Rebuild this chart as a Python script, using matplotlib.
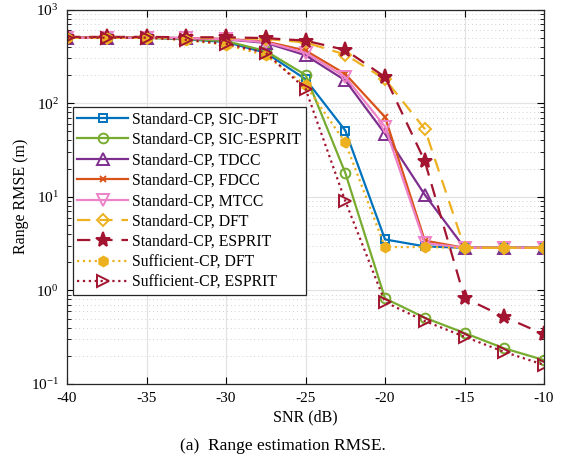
import matplotlib
matplotlib.use("Agg")
import matplotlib.pyplot as plt
from matplotlib.ticker import LogLocator, NullFormatter

snr = [-40, -37.5, -35, -32.5, -30, -27.5, -25, -22.5, -20, -17.5, -15, -12.5, -10]

sic_dft = [500, 500, 500, 480, 450, 345, 180, 51, 3.5, 2.95, 2.85, 2.85, 2.85]
sic_esprit = [500, 500, 500, 485, 460, 360, 200, 18, 0.82, 0.51, 0.35, 0.24, 0.18]
tdcc = [500, 500, 500, 495, 480, 440, 325, 175, 47, 10.5, 2.85, 2.85, 2.85]
fdcc = [500, 500, 500, 495, 485, 455, 365, 205, 71, 3.4, 2.85, 2.85, 2.85]
mtcc = [500, 500, 500, 495, 482, 448, 345, 190, 56, 3.2, 2.85, 2.85, 2.85]
std_dft = [500, 500, 500, 500, 495, 485, 445, 330, 180, 53, 2.85, 2.85, 2.85]
std_esprit = [510, 510, 510, 505, 505, 495, 465, 370, 190, 24, 0.83, 0.52, 0.34]
suf_dft = [500, 500, 500, 470, 420, 325, 155, 38, 2.9, 2.9, 2.85, 2.85, 2.85]
suf_esprit = [500, 500, 500, 475, 430, 345, 142, 9, 0.75, 0.47, 0.32, 0.22, 0.16]

labels = [
    "Standard-CP, SIC-DFT",
    "Standard-CP, SIC-ESPRIT",
    "Standard-CP, TDCC",
    "Standard-CP, FDCC",
    "Standard-CP, MTCC",
    "Standard-CP, DFT",
    "Standard-CP, ESPRIT",
    "Sufficient-CP, DFT",
    "Sufficient-CP, ESPRIT",
]

plt.rcParams["font.family"] = ["Liberation Serif", "DejaVu Serif"]
plt.rcParams["mathtext.fontset"] = "stix"

fig = plt.figure(figsize=(5.65, 4.66), dpi=100)
ax = fig.add_axes([0.1186, 0.176, 0.8443, 0.8036])

blue = "#0072BD"
green = "#77AC30"
purple = "#7E2F8E"
orange = "#D95319"
pink = "#EE82C8"
yellow = "#EDB120"
darkred = "#A2142F"

styles = [
    (sic_dft, dict(color=blue, ls="-", marker="s", mfc="none", ms=6)),
    (sic_esprit, dict(color=green, ls="-", marker="o", mfc="none", ms=7)),
    (tdcc, dict(color=purple, ls="-", marker="^", mfc="none", ms=8)),
    (fdcc, dict(color=orange, ls="-", marker="x", ms=5)),
    (mtcc, dict(color=pink, ls="-", marker="v", mfc="none", ms=8)),
    (std_dft, dict(color=yellow, ls=(0, (6, 4)), marker="D", mfc="none", ms=6)),
    (std_esprit, dict(color=darkred, ls=(0, (6, 4)), marker="*", mfc=darkred, ms=11)),
    (suf_dft, dict(color=yellow, ls=":", marker="h", mfc=yellow, ms=7)),
    (suf_esprit, dict(color=darkred, ls=":", marker=">", mfc="none", ms=8)),
]

for (vals, kw), lab in zip(styles, labels):
    ax.plot(snr, vals, lw=1.6, mew=1.4, label=lab, **kw)

ax.set_yscale("log")
ax.set_xlim(-40, -10)
ax.set_ylim(0.1, 1000)
ax.set_xticks([-40, -35, -30, -25, -20, -15, -10])
ax.set_xticklabels(["-40", "-35", "-30", "-25", "-20", "-15", "-10"])
ax.yaxis.set_minor_locator(LogLocator(base=10, subs=range(2, 10)))
ax.yaxis.set_minor_formatter(NullFormatter())

ax.grid(True, which="major", color="#e3e3e3", lw=0.9, ls="-")
ax.grid(True, which="minor", axis="y", color="#d0d0d0", lw=0.7, ls=(0, (1, 3)))
ax.set_axisbelow(True)

ax.tick_params(direction="in", which="both", top=True, right=True, labelsize=11, pad=6)
ax.tick_params(which="major", length=5)
ax.tick_params(which="minor", length=3)
for sp in ax.spines.values():
    sp.set_color("#262626")
    sp.set_linewidth(0.9)

ax.set_xlabel("SNR (dB)", fontsize=11.5, labelpad=3)
ax.set_ylabel("Range RMSE (m)", fontsize=11.5, labelpad=1)

leg = ax.legend(loc="upper left", bbox_to_anchor=(0.012, 0.74), fontsize=11.3,
                handlelength=3.2, handletextpad=0.3, labelspacing=0.28,
                borderpad=0.3, frameon=True, fancybox=False, framealpha=1,
                edgecolor="#262626", borderaxespad=0)
leg.get_frame().set_linewidth(0.9)

fig.text(0.5, 0.043, "(a)  Range estimation RMSE.", ha="center", va="center", fontsize=12.5)

fig.savefig("out.png", dpi=100)
